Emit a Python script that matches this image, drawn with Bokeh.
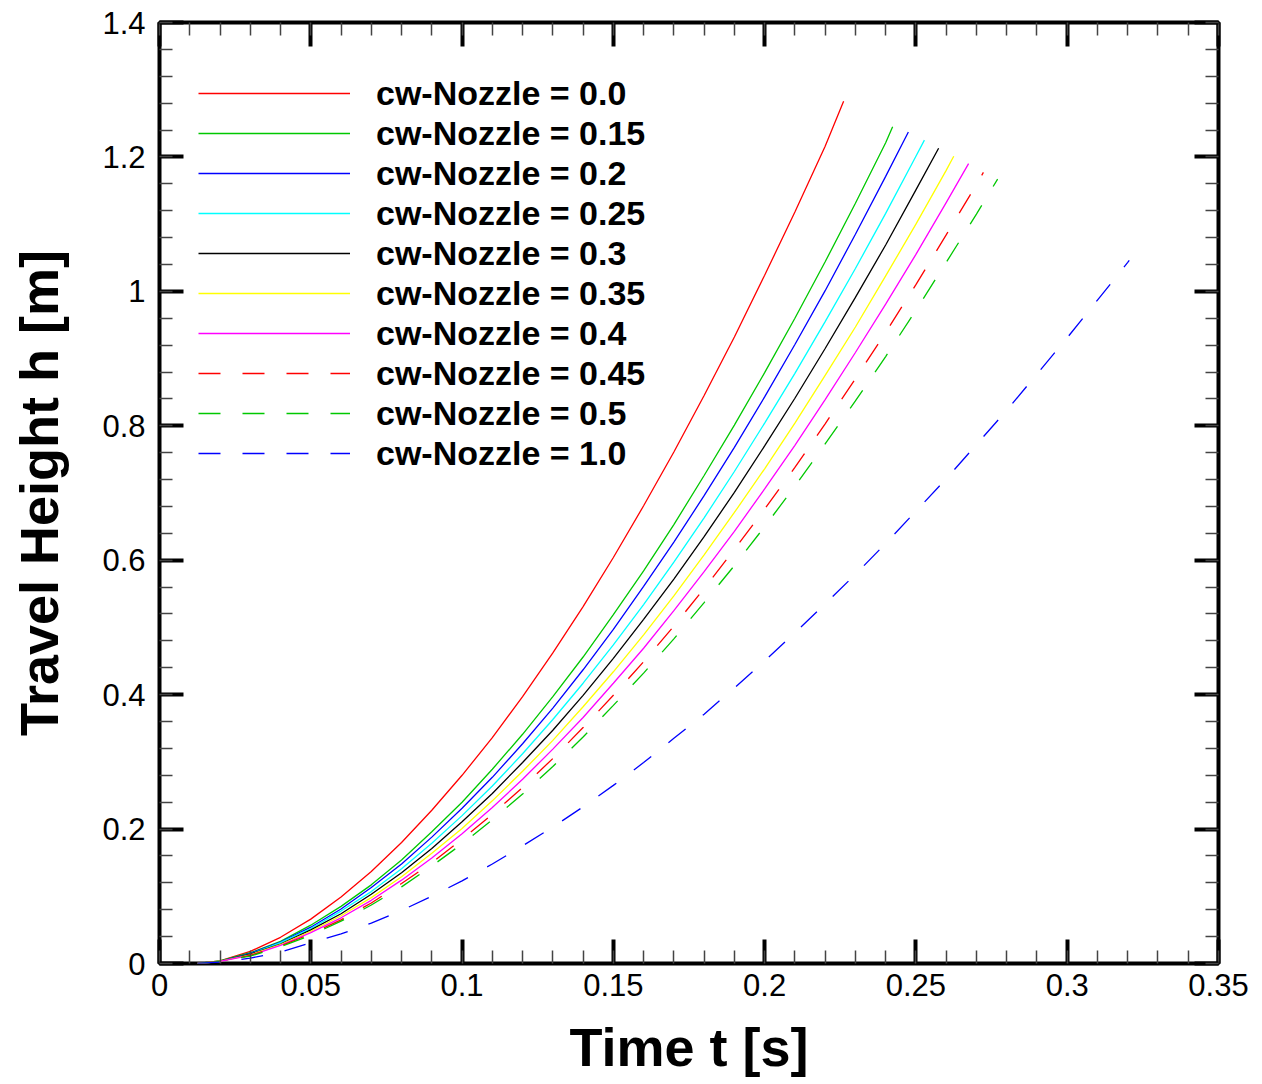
from bokeh.plotting import figure
from bokeh.models import Range1d, FixedTicker, LinearAxis, Legend, LegendItem, CustomJSTickFormatter
from bokeh.embed import file_html
from bokeh.resources import INLINE

# time grid [s]
t_grid = [0.0126, 0.02, 0.03, 0.04, 0.05, 0.06, 0.07, 0.08, 0.09, 0.10, 0.11, 0.12,
          0.13, 0.14, 0.15, 0.16, 0.17, 0.18, 0.19, 0.20, 0.21, 0.22, 0.23, 0.24,
          0.25, 0.26, 0.27, 0.28, 0.29, 0.30, 0.31, 0.32]

series_labels = ["cw-Nozzle = 0.0", "cw-Nozzle = 0.15", "cw-Nozzle = 0.2", "cw-Nozzle = 0.25",
                 "cw-Nozzle = 0.3", "cw-Nozzle = 0.35", "cw-Nozzle = 0.4", "cw-Nozzle = 0.45",
                 "cw-Nozzle = 0.5", "cw-Nozzle = 1.0"]

h_00 = [0, 0.004, 0.018, 0.039, 0.066, 0.099, 0.137, 0.180, 0.228, 0.280, 0.336, 0.397, 0.462,
        0.531, 0.604, 0.681, 0.761, 0.845, 0.932, 1.024, 1.118, 1.216]
h_015 = [0, 0.004, 0.016, 0.033, 0.057, 0.085, 0.117, 0.154, 0.196, 0.240, 0.289, 0.341, 0.397,
         0.456, 0.519, 0.584, 0.653, 0.726, 0.801, 0.879, 0.960, 1.044, 1.131, 1.221]
h_02 = [0, 0.003, 0.015, 0.032, 0.054, 0.081, 0.113, 0.148, 0.188, 0.231, 0.277, 0.327, 0.380,
        0.437, 0.497, 0.561, 0.627, 0.696, 0.768, 0.843, 0.921, 1.001, 1.085, 1.171]
h_025 = [0, 0.003, 0.014, 0.031, 0.052, 0.078, 0.107, 0.141, 0.179, 0.220, 0.264, 0.312, 0.363,
         0.417, 0.474, 0.534, 0.597, 0.663, 0.732, 0.804, 0.878, 0.955, 1.034, 1.116, 1.201]
h_03 = [0, 0.003, 0.014, 0.029, 0.050, 0.074, 0.103, 0.135, 0.171, 0.211, 0.253, 0.299, 0.347,
        0.399, 0.454, 0.512, 0.572, 0.635, 0.701, 0.770, 0.841, 0.915, 0.991, 1.069, 1.151]
h_035 = [0, 0.003, 0.013, 0.028, 0.048, 0.071, 0.098, 0.129, 0.164, 0.201, 0.242, 0.286, 0.332,
         0.382, 0.434, 0.489, 0.547, 0.608, 0.671, 0.736, 0.804, 0.875, 0.947, 1.023, 1.100, 1.180]
h_04 = [0, 0.003, 0.012, 0.027, 0.046, 0.068, 0.094, 0.124, 0.157, 0.193, 0.232, 0.274, 0.319,
        0.366, 0.417, 0.469, 0.525, 0.583, 0.643, 0.706, 0.771, 0.839, 0.909, 0.981, 1.055, 1.132]
h_045 = [0, 0.003, 0.012, 0.026, 0.044, 0.065, 0.090, 0.119, 0.150, 0.185, 0.222, 0.262, 0.305,
         0.351, 0.399, 0.449, 0.502, 0.558, 0.616, 0.676, 0.738, 0.803, 0.870, 0.939, 1.010, 1.084, 1.159]
h_05 = [0, 0.003, 0.011, 0.025, 0.042, 0.063, 0.087, 0.114, 0.145, 0.178, 0.214, 0.252, 0.293,
        0.337, 0.384, 0.432, 0.483, 0.537, 0.592, 0.650, 0.710, 0.773, 0.837, 0.903, 0.972, 1.043, 1.115]
h_10 = [0, 0.002, 0.008, 0.017, 0.031, 0.044, 0.060, 0.079, 0.100, 0.123, 0.148, 0.175, 0.203,
        0.233, 0.265, 0.299, 0.335, 0.371, 0.410, 0.450, 0.492, 0.535, 0.579, 0.625, 0.673, 0.721,
        0.772, 0.823, 0.877, 0.931, 0.987, 1.043]

end_t = [0.2261, 0.2423, 0.2475, 0.2528, 0.2575, 0.2625, 0.2674, 0.2723, 0.2770, 0.3205]
end_h = [1.283, 1.245, 1.237, 1.225, 1.213, 1.201, 1.190, 1.177, 1.167, 1.046]

x_tick_values = [0, 0.05, 0.1, 0.15, 0.2, 0.25, 0.3, 0.35]
x_tick_labels = ["0", "0.05", "0.1", "0.15", "0.2", "0.25", "0.3", "0.35"]
y_tick_values = [0, 0.2, 0.4, 0.6, 0.8, 1.0, 1.2, 1.4]
y_tick_labels = ["0", "0.2", "0.4", "0.6", "0.8", "1", "1.2", "1.4"]

all_h = [h_00, h_015, h_02, h_025, h_03, h_035, h_04, h_045, h_05, h_10]
colors = ["#FF0000", "#00C800", "#0000FF", "#00FFFF", "#000000", "#FFFF00", "#FF00FF",
          "#FF0000", "#00C800", "#0000FF"]
dashes = ["solid"] * 7 + ["22 22"] * 3

FONT = "Liberation Sans"

p = figure(width=1262, height=1084, output_backend="svg", toolbar_location=None,
           x_range=Range1d(0, 0.35), y_range=Range1d(0, 1.4),
           min_border_left=159, min_border_right=44, min_border_top=22, min_border_bottom=121)
p.background_fill_color = "white"
p.border_fill_color = "white"
p.grid.visible = False
p.outline_line_color = "black"
p.outline_line_width = 4

x_minor = [round(i * 0.01, 2) for i in range(36)]
y_minor = [round(i * 0.04, 2) for i in range(36)]


def style_axis(ax, ticks, minor, labels, show_labels):
    ax.ticker = FixedTicker(ticks=ticks, minor_ticks=minor)
    ax.axis_line_color = None
    ax.major_tick_in = 24
    ax.major_tick_out = 0
    ax.major_tick_line_width = 4
    ax.major_tick_line_color = "black"
    ax.minor_tick_in = 13
    ax.minor_tick_out = 0
    ax.minor_tick_line_width = 1.5
    ax.minor_tick_line_color = "#444444"
    if show_labels:
        ax.major_label_overrides = {v: l for v, l in zip(ticks, labels)}
        ax.major_label_text_font = FONT
        ax.major_label_text_font_size = "31px"
        ax.major_label_text_color = "black"
    else:
        ax.formatter = CustomJSTickFormatter(code="return ''")
        ax.major_label_standoff = 0


xa = p.xaxis[0]
ya = p.yaxis[0]
style_axis(xa, x_tick_values, x_minor, x_tick_labels, True)
style_axis(ya, y_tick_values, y_minor, y_tick_labels, True)
xa.major_label_standoff = 10
ya.major_label_standoff = 14
xa.axis_label = "Time t [s]"
ya.axis_label = "Travel Height h [m]"
for ax in (xa, ya):
    ax.axis_label_text_font = FONT
    ax.axis_label_text_font_style = "bold"
    ax.axis_label_text_font_size = "54px"
    ax.axis_label_text_color = "black"
xa.axis_label_standoff = 18
ya.axis_label_standoff = 30

ra = LinearAxis()
style_axis(ra, y_tick_values, y_minor, y_tick_labels, False)
p.add_layout(ra, "right")
ta = LinearAxis()
style_axis(ta, x_tick_values, x_minor, x_tick_labels, False)
p.add_layout(ta, "above")

items = []
for i, h in enumerate(all_h):
    xs = t_grid[:len(h)] + [end_t[i]]
    ys = h + [end_h[i]]
    r = p.line(xs, ys, line_color=colors[i], line_width=1.3, line_dash=dashes[i])
    items.append(LegendItem(label=series_labels[i], renderers=[r]))

legend = Legend(items=items, location=(39, 490))
legend.margin = 0
legend.padding = 0
legend.spacing = 0
legend.glyph_width = 152
legend.glyph_height = 40
legend.label_height = 40
legend.label_standoff = 26
legend.label_text_font = FONT
legend.label_text_font_style = "bold"
legend.label_text_font_size = "34px"
legend.label_text_color = "black"
legend.border_line_color = None
legend.background_fill_alpha = 0
p.add_layout(legend)

open("out.html", "w").write(file_html(p, INLINE))
